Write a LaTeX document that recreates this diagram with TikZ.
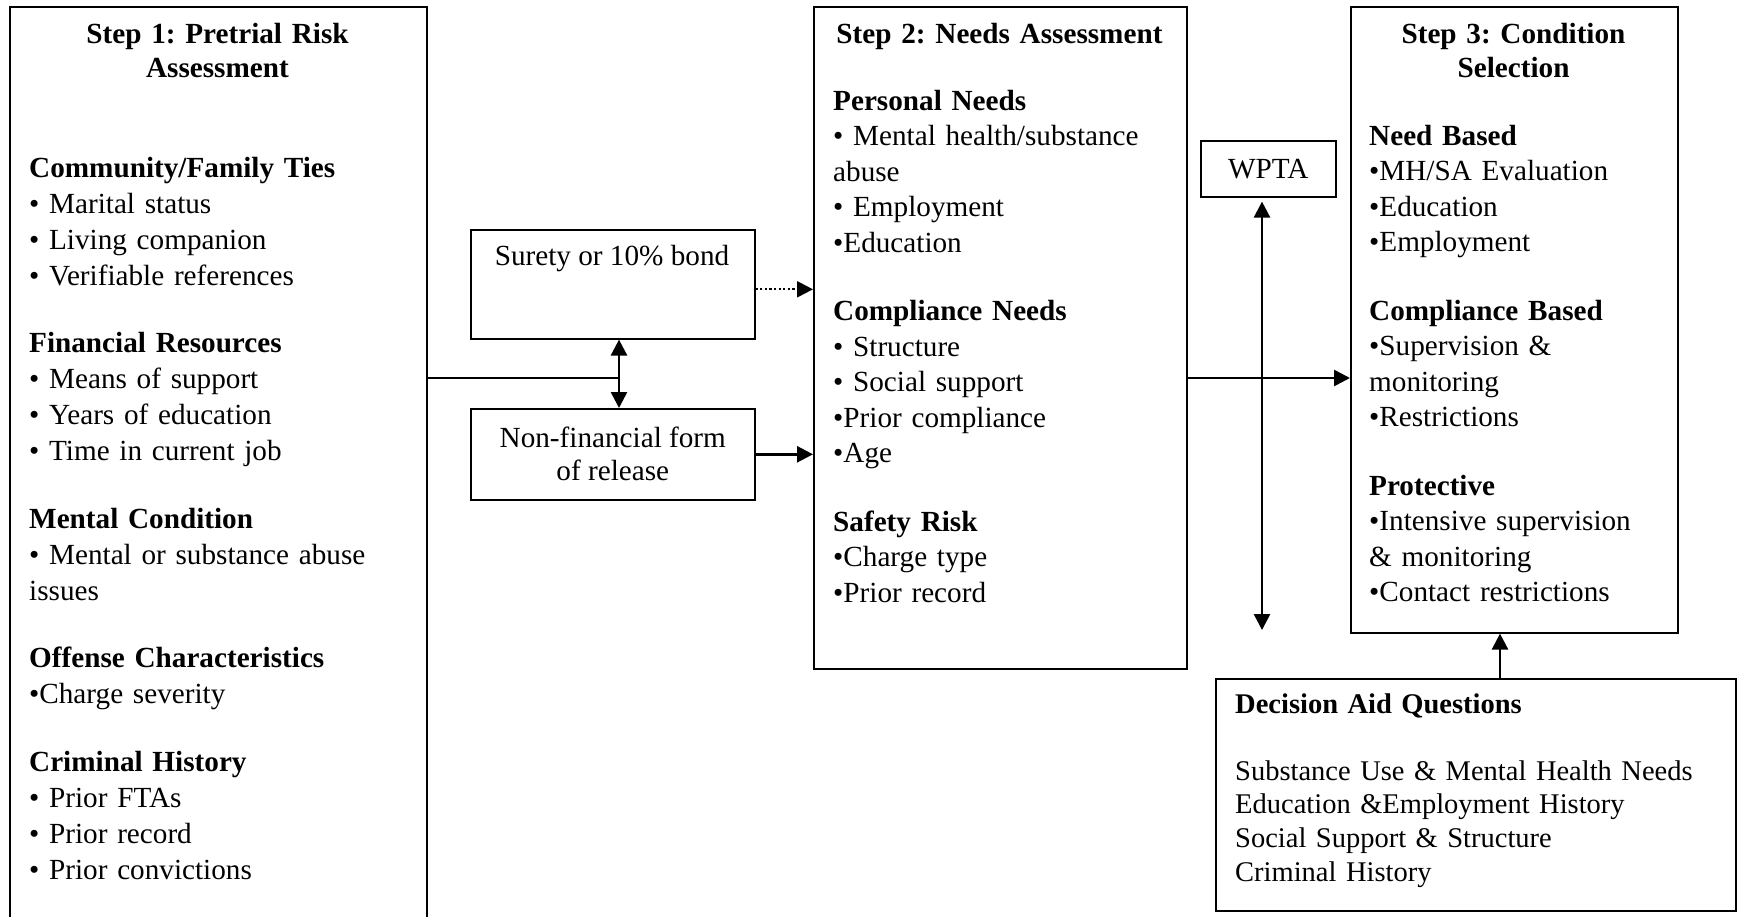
\documentclass[tikz,border=0pt]{standalone}
\usepackage{fontspec}
\setmainfont{Liberation Serif}
\usetikzlibrary{arrows.meta}
\frenchspacing

\begin{document}
\begin{tikzpicture}[x=1pt, y=-1pt,
	box/.style={draw, line width=1.6pt, inner sep=0pt, anchor=north west},
	titletxt/.style={inner sep=0pt, anchor=base, align=center, text width=#1, font=\fontsize{29.2}{34}\selectfont\bfseries},
	bodytxt/.style={inner sep=0pt, anchor=base west, align=left, text width=#1, font=\fontsize{29.2}{36}\selectfont},
	arr/.style={-{Triangle[length=16pt, width=16pt]}, line width=2.6pt},
	dblarr/.style={{Triangle[length=16pt, width=16pt]}-{Triangle[length=16pt, width=16pt]}, line width=2.6pt},
	dotarr/.style={arr, line width=2.2pt, dash pattern=on 2.2pt off 2.4pt},
	thinline/.style={line width=1.4pt}]
				\useasboundingbox (0, 0) rectangle (1737, 916);
				\clip (0, 0) rectangle (1737, 916);
				
				%step 1
				\node (step1) at (9, 6) [box, minimum width=417, minimum height=930]{};
				\node (step1title) at (217.5, 43) [titletxt=417]{Step 1: Pretrial Risk\\Assessment};
				\node (step1body) at (29, 177) [bodytxt=390]{\textbf{Community/Family Ties}\\
					• Marital status\\
					• Living companion\\
					• Verifiable references\\[31.5pt]
					\textbf{Financial Resources}\\
					• Means of support\\
					• Years of education\\
					• Time in current job\\[31.5pt]
					\textbf{Mental Condition}\\
					• Mental or substance abuse\\
					issues\\[31.5pt]
					\textbf{Offense Characteristics}\\
					•Charge severity\\[31.5pt]
					\textbf{Criminal History}\\
					• Prior FTAs\\
					• Prior record\\
					• Prior convictions};
				
				%release forms
				\node (surety) at (470, 229) [box, minimum width=284, minimum height=109]{};
				\node (suretylbl) at (612, 265) [anchor=base, inner sep=0pt, font=\fontsize{29.2}{33}\selectfont]{Surety or 10\% bond};
				\node (nonfin) at (470, 408) [box, minimum width=284, minimum height=91, align=center, font=\fontsize{29.2}{33}\selectfont]{Non-financial form\\of release};
				
				%step 2
				\node (step2) at (813, 6) [box, minimum width=373, minimum height=662]{};
				\node (step2title) at (999.5, 43) [titletxt=373]{Step 2: Needs Assessment};
				\node (step2body) at (833, 110) [bodytxt=345, font=\fontsize{29.2}{35.5}\selectfont]{\textbf{Personal Needs}\\
					• Mental health/substance\\
					abuse\\
					• Employment\\
					•Education\\[33pt]
					\textbf{Compliance Needs}\\
					• Structure\\
					• Social support\\
					•Prior compliance\\
					•Age\\[33pt]
					\textbf{Safety Risk}\\
					•Charge type\\
					•Prior record};
				
				\node (wpta) at (1200, 140) [box, minimum width=135, minimum height=56, font=\fontsize{29.2}{33}\selectfont]{WPTA};
				
				%step 3
				\node (step3) at (1350, 6) [box, minimum width=327, minimum height=626]{};
				\node (step3title) at (1513.5, 43) [titletxt=327]{Step 3: Condition\\Selection};
				\node (step3body) at (1369, 145) [bodytxt=300, font=\fontsize{29.2}{35.5}\selectfont]{\textbf{Need Based}\\
					•MH/SA Evaluation\\
					•Education\\
					•Employment\\[33pt]
					\textbf{Compliance Based}\\
					•Supervision \&\\
					monitoring\\
					•Restrictions\\[33pt]
					\textbf{Protective}\\
					•Intensive supervision\\
					\& monitoring\\
					•Contact restrictions};
				
				%decision aid
				\node (decision) at (1215, 678) [box, minimum width=520, minimum height=232]{};
				\node (decisionbody) at (1235, 713) [bodytxt=495, font=\fontsize{28.5}{33.6}\selectfont]{\textbf{Decision Aid Questions}\\[33.6pt]
					Substance Use \& Mental Health Needs\\
					Education \&Employment History\\
					Social Support \& Structure\\
					Criminal History};
				
				%connectors
				\coordinate (split) at (619, 378);
				\coordinate (wend) at (1262, 630);
				\coordinate (aid) at (1500, 0);
				\draw[thinline] (step1.east |- split) -- (split);
				\draw[dblarr] (surety.south -| split) -- (nonfin.north -| split);
				\draw[dotarr] ([yshift=-5pt]surety.east) coordinate (dotstart) -- (dotstart -| step2.west);
				\draw[arr] (nonfin.east) -- (nonfin.east -| step2.west);
				\draw[arr] (step2.east |- split) -- (step3.west |- split);
				\draw[dblarr] ([yshift=-4pt]wpta.south -| wend) -- (wend);
				\draw[arr] (decision.north -| aid) -- (step3.south -| aid);
			\end{tikzpicture}
\end{document}
